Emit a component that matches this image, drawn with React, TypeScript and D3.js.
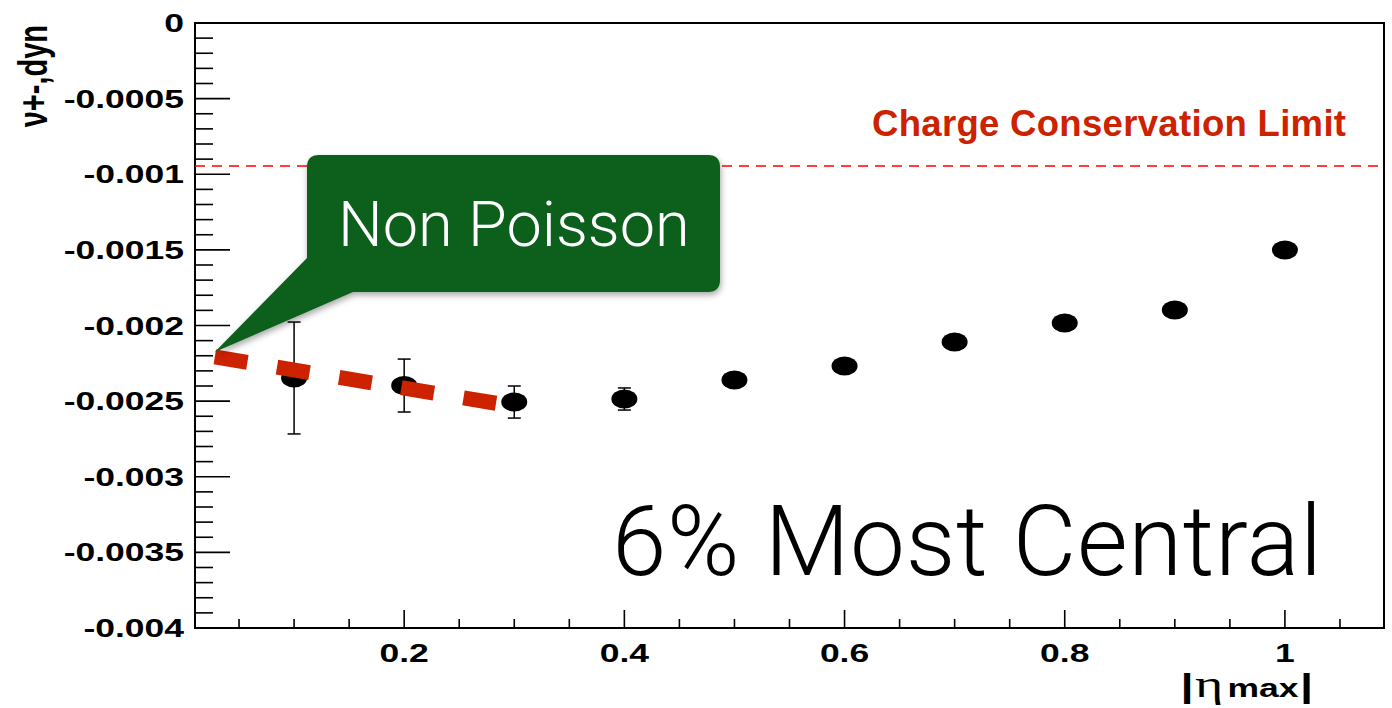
import React from "react";
import * as d3 from "d3";

const etaMax = [0.1, 0.2, 0.3, 0.4, 0.5, 0.6, 0.7, 0.8, 0.9, 1.0];
const nuDyn = [-0.002347, -0.002397, -0.002506, -0.002486, -0.00236, -0.002268, -0.002109, -0.001983, -0.001897, -0.001501];
const nuErr = [0.00037, 0.000175, 0.000106, 0.000073, 0.00003, 0.00003, 0.00003, 0.00003, 0.00003, 0.00003];
const xMajorTicks = [0.2, 0.4, 0.6, 0.8, 1.0];
const xTickLabels = ["0.2", "0.4", "0.6", "0.8", "1"];
const yMajorTicks = [0, -0.0005, -0.001, -0.0015, -0.002, -0.0025, -0.003, -0.0035, -0.004];
const yTickLabels = ["0", "-0.0005", "-0.001", "-0.0015", "-0.002", "-0.0025", "-0.003", "-0.0035", "-0.004"];
const chargeLimit = -0.000945;
const nonPoissonX = [0.028, 0.29];
const nonPoissonY = [-0.002208, -0.002522];

const W = 1392;
const H = 708;
const SX = 1.42; // horizontal stretch of the original plot
const left = 195, right = 1384, top = 23, bottom = 628;

export default function App() {
  const x = d3.scaleLinear().domain([0.01, 1.09]).range([left, right]);
  const y = d3.scaleLinear().domain([-0.004, 0]).range([bottom, top]);

  const xMinor = d3.range(1, 22).map((i) => i * 0.05).filter((v) => !xMajorTicks.some((m) => Math.abs(m - v) < 1e-9));
  const yMinor = d3.range(0, 41).map((i) => -i * 0.0001).filter((v) => !yMajorTicks.some((m) => Math.abs(m - v) < 1e-9));

  const line = d3.line<number>().x((_, i) => x(nonPoissonX[i])).y((_, i) => y(nonPoissonY[i]));

  const font = "'Liberation Sans', Arial, Helvetica, sans-serif";
  const light = "Roboto, 'Open Sans', Lato, sans-serif";

  // callout
  const cx0 = 307, cy0 = 155, cx1 = 720, cy1 = 292, r = 12;
  const tip = [x(nonPoissonX[0]), y(nonPoissonY[0]) - 5];
  const calloutPath = `M${cx0 + r},${cy0} L${cx1 - r},${cy0} Q${cx1},${cy0} ${cx1},${cy0 + r} L${cx1},${cy1 - r} Q${cx1},${cy1} ${cx1 - r},${cy1} L353,${cy1} L${tip[0]},${tip[1]} L${cx0},258 L${cx0},${cy0 + r} Q${cx0},${cy0} ${cx0 + r},${cy0} Z`;

  return (
    <svg width={W} height={H} style={{ position: "absolute", left: 0, top: 0, background: "#fff" }}>
      <defs>
        <filter id="sh" x="-10%" y="-10%" width="130%" height="130%">
          <feDropShadow dx="1" dy="3" stdDeviation="3" floodColor="#000" floodOpacity="0.35" />
        </filter>
      </defs>
      {/* frame */}
      <rect x={left} y={top} width={right - left} height={bottom - top} fill="none" stroke="#000" strokeWidth={2} />
      {/* y ticks */}
      {yMajorTicks.map((v, i) => (
        <g key={"ym" + i}>
          <line x1={left} x2={left + 35} y1={y(v)} y2={y(v)} stroke="#000" strokeWidth={1.6} />
          <text transform={`translate(${left - 11},${y(v) + 9}) scale(${SX},1)`} textAnchor="end" fontFamily={font} fontWeight="bold" fontSize={25} fill="#000">
            {yTickLabels[i]}
          </text>
        </g>
      ))}
      {yMinor.map((v, i) => (
        <line key={"yn" + i} x1={left} x2={left + 18} y1={y(v)} y2={y(v)} stroke="#000" strokeWidth={1.6} />
      ))}
      {/* x ticks */}
      {xMajorTicks.map((v, i) => (
        <g key={"xm" + i}>
          <line x1={x(v)} x2={x(v)} y1={bottom} y2={bottom - 18} stroke="#000" strokeWidth={1.6} />
          <text transform={`translate(${x(v)},${bottom + 34}) scale(${SX},1)`} textAnchor="middle" fontFamily={font} fontWeight="bold" fontSize={25} fill="#000">
            {xTickLabels[i]}
          </text>
        </g>
      ))}
      {xMinor.map((v, i) => (
        <line key={"xn" + i} x1={x(v)} x2={x(v)} y1={bottom} y2={bottom - 9} stroke="#000" strokeWidth={1.6} />
      ))}
      {/* axis titles */}
      <text transform={`translate(47,25) scale(${SX},1) rotate(-90)`} textAnchor="end" fontFamily={font} fontWeight="bold" fontSize={29} fill="#000">
        ν+-,dyn
      </text>
      <text transform={`translate(1313,697) scale(${SX},1)`} textAnchor="end" fontFamily={font} fontWeight="bold" fontSize={33} fill="#000">
        <tspan>|</tspan>
        <tspan fontFamily="'Liberation Serif', 'DejaVu Serif', serif" fontWeight="normal" fontSize={38} dx={1}>η</tspan>
        <tspan fontSize={25} dx={3}>max</tspan>
        <tspan dx={1}>|</tspan>
      </text>
      {/* charge conservation limit */}
      <line x1={left} x2={right} y1={y(chargeLimit)} y2={y(chargeLimit)} stroke="#ff0000" strokeWidth={1.4} strokeDasharray="10,7" />
      <text x={872} y={136} fontFamily={font} fontWeight="bold" fontSize={36.5} fill="#cc2200" textLength={474} lengthAdjust="spacing">
        Charge Conservation Limit
      </text>
      {/* error bars */}
      {etaMax.map((v, i) => (
        <g key={"e" + i} stroke="#000" strokeWidth={1.5}>
          <line x1={x(v)} x2={x(v)} y1={y(nuDyn[i] + nuErr[i])} y2={y(nuDyn[i] - nuErr[i])} />
          <line x1={x(v) - 6.5} x2={x(v) + 6.5} y1={y(nuDyn[i] + nuErr[i])} y2={y(nuDyn[i] + nuErr[i])} />
          <line x1={x(v) - 6.5} x2={x(v) + 6.5} y1={y(nuDyn[i] - nuErr[i])} y2={y(nuDyn[i] - nuErr[i])} />
        </g>
      ))}
      {/* points */}
      {etaMax.map((v, i) => (
        <ellipse key={"p" + i} cx={x(v)} cy={y(nuDyn[i])} rx={13} ry={9.5} fill="#000" />
      ))}
      {/* Non Poisson line */}
      <path d={line([0, 1]) || ""} fill="none" stroke="#cc2200" strokeWidth={15} strokeDasharray="33,30" />
      {/* callout */}
      <path d={calloutPath} fill="#0f5e1b" filter="url(#sh)" />
      <text x={338} y={246} fontFamily={light} fontWeight={300} fontSize={63} fill="#fff">
        Non Poisson
      </text>
      <text x={612} y={575} fontFamily={light} fontWeight={300} fontSize={98} fill="#000" textLength={710} lengthAdjust="spacing">
        6% Most Central
      </text>
    </svg>
  );
}
